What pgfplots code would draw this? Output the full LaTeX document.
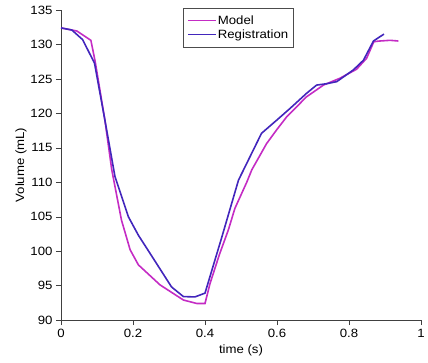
\documentclass[border=0pt]{standalone}
\usepackage{pgfplots}
\pgfplotsset{compat=1.18}
\usepackage{fontspec}
\setmainfont{Liberation Sans}[FakeStretch=1.1]
\definecolor{modelc}{RGB}{196,44,196}
\definecolor{regc}{RGB}{66,38,188}
\begin{document}
\begin{tikzpicture}
\useasboundingbox (-61pt,-42pt) rectangle (367pt,320pt);
\begin{axis}[
  at={(0pt,0pt)}, anchor=origin,
  scale only axis, width=360pt, height=310pt,
  xmin=0, xmax=1, ymin=90, ymax=135,
  xtick={0,0.2,0.4,0.6,0.8,1}, ytick={90,95,...,135},
  axis x line=bottom, axis y line=left,
  axis line style={-, draw=black!75},
  tick align=outside, major tick length=5pt,
  tick style={draw=black!75},
  /pgf/number format/assume math mode=true,
  ticklabel style={font=\fontsize{12}{14}\selectfont},
  xticklabel style={yshift=-1pt},
  xlabel={time (s)}, ylabel={Volume (mL)},
  label style={font=\fontsize{12}{14}\selectfont},
  xlabel style={at={(axis description cs:0.5,-0.07)}, anchor=north},
  ylabel style={at={(axis description cs:-0.086,0.5)}, anchor=south},
  legend style={at={(axis description cs:0.339,1.006)}, anchor=north west,
    draw=black!70, font=\fontsize{12}{14}\selectfont, inner xsep=4pt, inner ysep=5pt,
    row sep=0pt, nodes={inner xsep=1pt, inner ysep=2pt}},
  legend cell align=left,
  legend image code/.code={\draw[#1] (0pt,0pt) -- (28pt,0pt);},
]
\addplot[modelc, line width=1.6pt] coordinates {
(0,132.4) (0.044,131.95) (0.083,130.6) (0.095,127.5) (0.122,119.0) (0.141,111.8)
(0.168,104.5) (0.192,100.2) (0.215,98.0) (0.275,95.1) (0.34,92.9) (0.377,92.4)
(0.4,92.4) (0.414,95.3) (0.44,99.5) (0.465,103.1) (0.483,106.2) (0.516,110.0)
(0.53,111.8) (0.571,115.6) (0.599,117.6) (0.627,119.5) (0.682,122.4) (0.729,124.1)
(0.775,125.1) (0.821,126.4) (0.849,128.0) (0.869,130.4) (0.886,130.5) (0.914,130.6)
(0.937,130.5)
};
\addlegendentry{Model}
\addplot[regc, line width=1.6pt] coordinates {
(0,132.4) (0.03,132.1) (0.06,130.7) (0.093,127.3) (0.122,119.0) (0.15,110.8)
(0.187,105.0) (0.215,102.3) (0.247,99.7) (0.307,94.8) (0.34,93.4) (0.372,93.35)
(0.4,93.9) (0.446,101.9) (0.493,110.3) (0.525,113.7) (0.557,117.1) (0.599,119.0)
(0.636,120.7) (0.682,122.9) (0.71,124.1) (0.738,124.3) (0.766,124.6) (0.812,126.3)
(0.84,127.7) (0.868,130.5) (0.897,131.5)
};
\addlegendentry{Registration}
\end{axis}
\end{tikzpicture}
\end{document}
